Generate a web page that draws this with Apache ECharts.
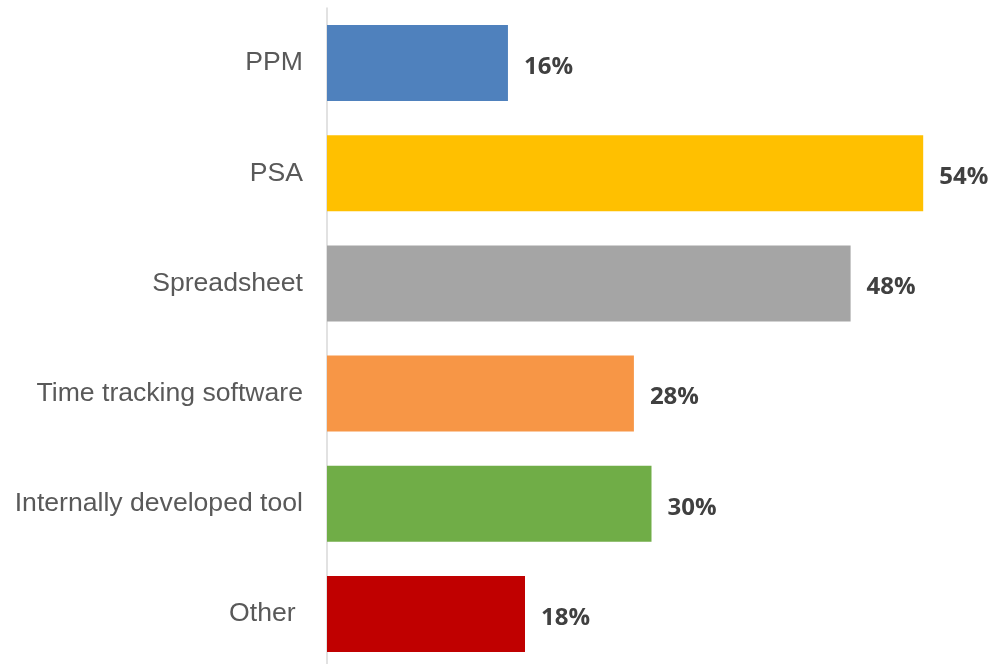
<!DOCTYPE html>
<html>
<head>
<meta charset="utf-8">
<script src="https://cdn.jsdelivr.net/npm/echarts@6/dist/echarts.min.js"></script>
<style>
    html, body { margin: 0; padding: 0; background: #ffffff; }
    #chart01 { width: 994px; height: 664px; }
</style>
</head>
<body>
<div id="chart01"></div>
<script>
var categories = ['PPM', 'PSA', 'Spreadsheet', 'Time tracking software', 'Internally developed tool', 'Other '];
var values = [16.45, 54.2, 47.6, 27.9, 29.5, 18.0];
var barColors = ['#4f81bd', '#ffc000', '#a5a5a5', '#f79646', '#70ad47', '#c00000'];

function chart01(id) {
    var myChart = echarts.init(document.getElementById(id));
    var option = {
        animation: false,
        grid: {
            left: 327,
            right: 7,
            top: 8,
            height: 661,
            outerBoundsMode: 'none'
        },
        xAxis: {
            type: 'value',
            min: 0,
            max: 60,
            show: false
        },
        yAxis: {
            type: 'category',
            inverse: true,
            data: categories,
            axisTick: { show: false },
            axisLine: {
                show: true,
                lineStyle: { color: '#d9d9d9', width: 1.5 }
            },
            axisLabel: {
                fontSize: 26.6,
                fontFamily: 'Liberation Sans',
                color: '#595959',
                margin: 24,
                padding: [6, 0, 0, 0]
            }
        },
        series: [
            {
                type: 'bar',
                barWidth: 76,
                data: values.map(function (v, i) {
                    return { value: v, itemStyle: { color: barColors[i] } };
                }),
                label: {
                    show: true,
                    position: 'right',
                    distance: 16,
                    offset: [0, 4],
                    formatter: function (p) { return Math.round(p.value) + '%'; },
                    fontSize: 24,
                    fontWeight: 'bold',
                    fontFamily: 'Open Sans',
                    color: '#404040'
                }
            }
        ]
    };
    myChart.setOption(option);
    return myChart;
}

var chartInit01 = chart01('chart01');
window.addEventListener('resize', function () {
    chartInit01.resize();
});
</script>
</body>
</html>
